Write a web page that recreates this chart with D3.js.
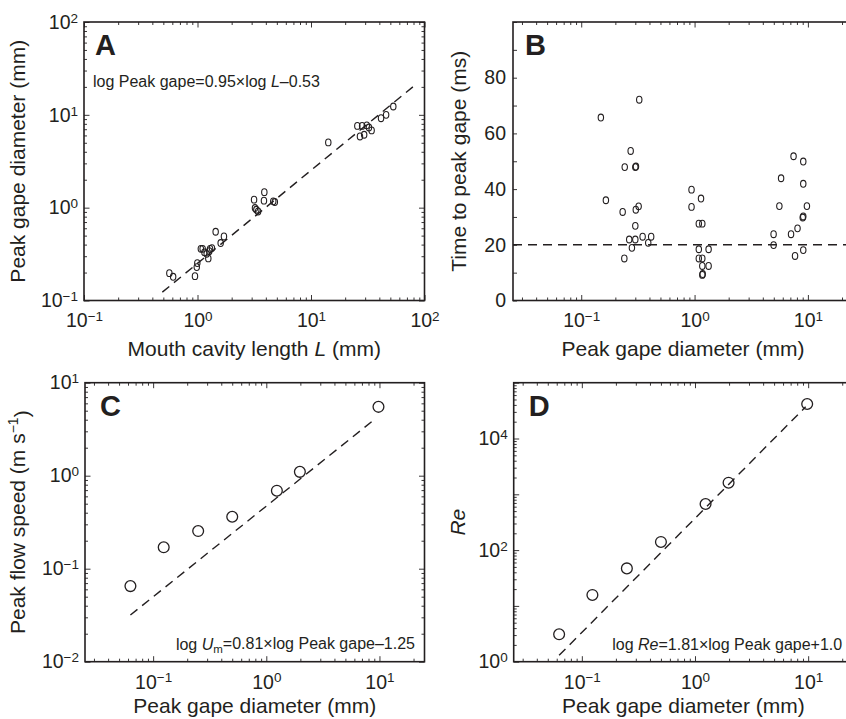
<!DOCTYPE html>
<html>
<head>
<meta charset="utf-8">
<script src="https://cdn.jsdelivr.net/npm/d3@7"></script>
<style>
  body { margin: 0; background: #fff; }
  text { font-family: "Liberation Sans", Arial, Helvetica, sans-serif; fill: #231f20; }
</style>
</head>
<body>
<div id="chart"></div>
<script>
// Panel A: mouth cavity length vs peak gape diameter
var lengthA = [0.565, 0.61, 0.95, 0.985, 0.996, 1.07, 1.11, 1.15, 1.205, 1.245, 1.27, 1.29, 1.34, 1.445, 1.6, 1.71,
               3.15, 3.21, 3.3, 3.42, 3.85, 3.88, 4.65, 4.8, 14.2, 25.6, 27.0, 28.2, 29.4, 31.0, 32.4, 34.2, 41.4, 45.9, 53.1];
var gapeA = [0.197, 0.18, 0.183, 0.229, 0.253, 0.36, 0.36, 0.33, 0.318, 0.284, 0.34, 0.36, 0.367, 0.55, 0.416, 0.49,
             1.22, 0.99, 0.95, 0.91, 1.19, 1.47, 1.17, 1.15, 5.05, 7.6, 5.85, 7.6, 6.1, 7.7, 7.3, 6.8, 9.2, 10.0, 12.3];
var fitAx = [0.49, 79];
var fitAy = [0.123, 20];

// Panel B: peak gape diameter vs time to peak gape
var gapeB = [0.149, 0.325, 0.273, 0.242, 0.300, 0.304, 0.165, 0.232, 0.303, 0.321, 0.300, 0.265, 0.300, 0.280, 0.240,
             0.348, 0.414, 0.39, 0.94, 0.94, 1.14, 1.09, 1.17, 1.09, 1.33, 1.09, 1.17, 1.17, 1.33, 1.17, 1.18,
             4.98, 4.98, 5.6, 5.8, 7.1, 8.1, 9.0, 9.1, 9.8, 9.1, 7.7, 7.47, 9.1, 9.1];
var timeB = [65.7, 72.1, 53.7, 47.9, 47.9, 48.1, 36, 31.8, 32.6, 33.8, 26.8, 21.9, 21.9, 18.9, 15.1,
             22.9, 22.9, 20.7, 39.8, 33.6, 36.6, 27.6, 27.6, 18.4, 18.4, 15.1, 15.1, 12.4, 12.4, 9.2, 9.5,
             23.8, 19.9, 33.9, 43.9, 23.8, 25.9, 29.8, 30.2, 33.9, 18.1, 16, 51.8, 49.9, 41.9];
var refTimeB = 20;

// Panels C and D: peak gape diameter vs peak flow speed and Re
var gapeCD = [0.063, 0.124, 0.25, 0.5, 1.24, 1.98, 9.8];
var speedC = [0.065, 0.17, 0.254, 0.362, 0.69, 1.1, 5.5];
var reD = [3.1, 15.7, 47, 140, 670, 1615, 41500];
var fitCx = [0.063, 9.3];
var fitCy = [0.0318, 4.14];
var fitDx = [0.063, 9.5];
var fitDy = [1.3, 37000];

var svgWidth = 846;
var svgHeight = 719;

var svg = d3.select("#chart")
    .append("svg")
    .attr("width", svgWidth)
    .attr("height", svgHeight);

var tickFont = 19.5;
var dash = "9,6";

function isPow10(v) {
    var e = Math.log10(v);
    return Math.abs(e - Math.round(e)) < 1e-9;
}

// write "10^n" as text with a superscript
function powLabel(sel) {
    sel.each(function (d) {
        var t = d3.select(this);
        t.text("");
        var e = Math.round(Math.log10(d));
        t.append("tspan").text("10");
        t.append("tspan")
            .attr("dy", "-0.45em")
            .style("font-size", "13.5px")
            .text(e < 0 ? "\u2212" + Math.abs(e) : e);
    });
}

function panel(p) {
    var g = svg.append("g")
        .attr("transform", `translate(${p.left}, ${p.top})`);

    var x = d3.scaleLog().domain(p.xDomain).range([0, p.width]);
    var y = (p.yLog ? d3.scaleLog() : d3.scaleLinear()).domain(p.yDomain).range([p.height, 0]);

    var xAll = x.ticks();
    var xMajor = xAll.filter(isPow10);
    var xMinor = xAll.filter(d => !isPow10(d));
    var yMajor, yMinor, yLab;
    if (p.yLog) {
        var yAll = y.ticks();
        yMajor = yAll.filter(isPow10);
        yMinor = yAll.filter(d => !isPow10(d));
        yLab = yMajor.filter(p.yLabelFilter || (() => true));
    } else {
        yMajor = d3.range(p.yDomain[0], p.yDomain[1] + 1, 10);
        yMinor = [];
        yLab = p.yLabels;
    }

    // tick marks (inward) on all four sides
    function ticks(axisFn, vals, len, tr) {
        var a = g.append("g")
            .attr("transform", tr)
            .call(axisFn.tickValues(vals).tickSizeInner(-len).tickSizeOuter(0).tickFormat(""));
        a.select(".domain").remove();
        a.selectAll("line").attr("stroke", "#231f20").attr("stroke-width", 0.9);
    }
    ticks(d3.axisBottom(x), xMinor, 3, `translate(0, ${p.height})`);
    ticks(d3.axisBottom(x), xMajor, 5.5, `translate(0, ${p.height})`);
    ticks(d3.axisTop(x), xMinor, 3, "translate(0, 0)");
    ticks(d3.axisTop(x), xMajor, 5.5, "translate(0, 0)");
    ticks(d3.axisLeft(y), yMinor, 3, "translate(0, 0)");
    ticks(d3.axisLeft(y), yMajor, p.yLog ? 5.5 : 4, "translate(0, 0)");
    ticks(d3.axisRight(y), yMinor, 3, `translate(${p.width}, 0)`);
    ticks(d3.axisRight(y), yMajor, p.yLog ? 5.5 : 4, `translate(${p.width}, 0)`);

    // tick labels
    var xl = g.append("g")
        .attr("transform", `translate(0, ${p.height})`)
        .call(d3.axisBottom(x).tickValues(xMajor).tickSize(0).tickPadding(13));
    xl.select(".domain").remove();
    xl.selectAll("text").style("font-size", tickFont + "px").call(powLabel);

    var yl = g.append("g")
        .call(d3.axisLeft(y).tickValues(yLab).tickSize(0).tickPadding(p.yPad));
    yl.select(".domain").remove();
    yl.selectAll("text").style("font-size", tickFont + "px");
    if (p.yLog) yl.selectAll("text").call(powLabel);

    // box
    g.append("rect")
        .attr("width", p.width)
        .attr("height", p.height)
        .attr("fill", "none")
        .attr("stroke", "#231f20")
        .attr("stroke-width", 1.6);

    // fit line
    var line = d3.line().x(d => x(d[0])).y(d => y(d[1]));
    g.append("path")
        .datum(p.fit)
        .attr("d", line)
        .attr("fill", "none")
        .attr("stroke", "#231f20")
        .attr("stroke-width", 1.4)
        .attr("stroke-dasharray", dash);

    // points
    if (p.big) {
        g.selectAll("circle.pt")
            .data(p.points)
            .enter().append("circle")
            .attr("class", "pt")
            .attr("cx", d => x(d[0]))
            .attr("cy", d => y(d[1]))
            .attr("r", 5.4)
            .attr("fill", "none")
            .attr("stroke", "#231f20")
            .attr("stroke-width", 1.3);
    } else {
        g.selectAll("ellipse.pt")
            .data(p.points)
            .enter().append("ellipse")
            .attr("class", "pt")
            .attr("cx", d => x(d[0]))
            .attr("cy", d => y(d[1]))
            .attr("rx", 2.7)
            .attr("ry", 3.4)
            .attr("fill", "none")
            .attr("stroke", "#231f20")
            .attr("stroke-width", 1.1);
    }

    // panel letter
    g.append("text")
        .attr("x", p.letterX)
        .attr("y", 33)
        .style("font-size", "29px")
        .style("font-weight", "bold")
        .text(p.letter);

    // x title
    var xt = g.append("text")
        .attr("x", p.width / 2)
        .attr("y", p.height + p.xTitleGap)
        .attr("text-anchor", "middle")
        .style("font-size", "21px");
    p.xTitle.forEach(function (s) {
        xt.append("tspan").style("font-style", s[1] ? "italic" : null).text(s[0]);
    });

    // y title
    var yt = g.append("text")
        .attr("transform", `translate(${p.yTitleX}, ${p.height / 2}) rotate(-90)`)
        .attr("text-anchor", "middle")
        .style("font-size", "21px");
    p.yTitle.forEach(function (s) {
        var ts = yt.append("tspan").text(s[0]);
        if (s[1] === "i") ts.style("font-style", "italic");
        if (s[1] === "sup") ts.attr("dy", "-0.5em").style("font-size", "14px");
        if (s[1] === "after") ts.attr("dy", "0.5em");
    });

    // equation
    var eq = g.append("text")
        .attr("x", p.eqX)
        .attr("y", p.eqY)
        .attr("text-anchor", p.eqAnchor)
        .style("font-size", "16px");
    p.eq.forEach(function (s) {
        var ts = eq.append("tspan").text(s[0]);
        if (s[1] === "i") ts.style("font-style", "italic");
        if (s[1] === "sub") ts.attr("dy", "0.25em").style("font-size", "11.5px");
        if (s[1] === "after") ts.attr("dy", "-0.25em");
    });

    // reference line for panel B
    if (p.hLine !== undefined) {
        g.append("line")
            .attr("x1", 0).attr("x2", p.width)
            .attr("y1", y(p.hLine)).attr("y2", y(p.hLine))
            .attr("stroke", "#231f20")
            .attr("stroke-width", 1.4)
            .attr("stroke-dasharray", dash);
    }
}

panel({
    left: 84, top: 22, width: 340.5, height: 278.5,
    xDomain: [0.1, 100], yDomain: [0.1, 100], yLog: true, yPad: 6,
    points: lengthA.map((v, i) => [v, gapeA[i]]),
    fit: fitAx.map((v, i) => [v, fitAy[i]]),
    letter: "A", letterX: 11,
    xTitle: [["Mouth cavity length "], ["L", true], [" (mm)"]], xTitleGap: 55,
    yTitle: [["Peak gape diameter (mm)"]], yTitleX: -59,
    eq: [["log Peak gape=0.95\u00d7log "], ["L", "i"], ["\u20130.53"]],
    eqX: 9, eqY: 65, eqAnchor: "start"
});

panel({
    left: 513, top: 22, width: 340, height: 278.5,
    xDomain: [0.025, 25], yDomain: [0, 100], yLog: false, yPad: 7,
    yLabels: [0, 20, 40, 60, 80],
    points: gapeB.map((v, i) => [v, timeB[i]]),
    fit: [],
    hLine: refTimeB,
    letter: "B", letterX: 12,
    xTitle: [["Peak gape diameter (mm)"]], xTitleGap: 55,
    yTitle: [["Time to peak gape (ms)"]], yTitleX: -47,
    eq: [],
    eqX: 0, eqY: 0, eqAnchor: "start"
});

panel({
    left: 85, top: 382.7, width: 339.5, height: 279,
    xDomain: [0.025, 25], yDomain: [0.01, 10], yLog: true, yPad: 6,
    points: gapeCD.map((v, i) => [v, speedC[i]]),
    fit: fitCx.map((v, i) => [v, fitCy[i]]),
    big: true,
    letter: "C", letterX: 15,
    xTitle: [["Peak gape diameter (mm)"]], xTitleGap: 51,
    yTitle: [["Peak flow speed (m s"], ["\u22121", "sup"], [")", "after"]], yTitleX: -60,
    eq: [["log "], ["U", "i"], ["m", "sub"], ["=0.81\u00d7log Peak gape\u20131.25", "after"]],
    eqX: 330, eqY: 267, eqAnchor: "end"
});

panel({
    left: 513.7, top: 382.7, width: 339.5, height: 279,
    xDomain: [0.025, 25], yDomain: [1, 1e5], yLog: true, yPad: 6,
    yLabelFilter: d => Math.round(Math.log10(d)) % 2 === 0,
    points: gapeCD.map((v, i) => [v, reD[i]]),
    fit: fitDx.map((v, i) => [v, fitDy[i]]),
    big: true,
    letter: "D", letterX: 15,
    xTitle: [["Peak gape diameter (mm)"]], xTitleGap: 51,
    yTitle: [["Re", "i"]], yTitleX: -48.5,
    eq: [["log "], ["Re", "i"], ["=1.81\u00d7log Peak gape+1.0"]],
    eqX: 328.5, eqY: 267, eqAnchor: "end"
});
</script>
</body>
</html>
